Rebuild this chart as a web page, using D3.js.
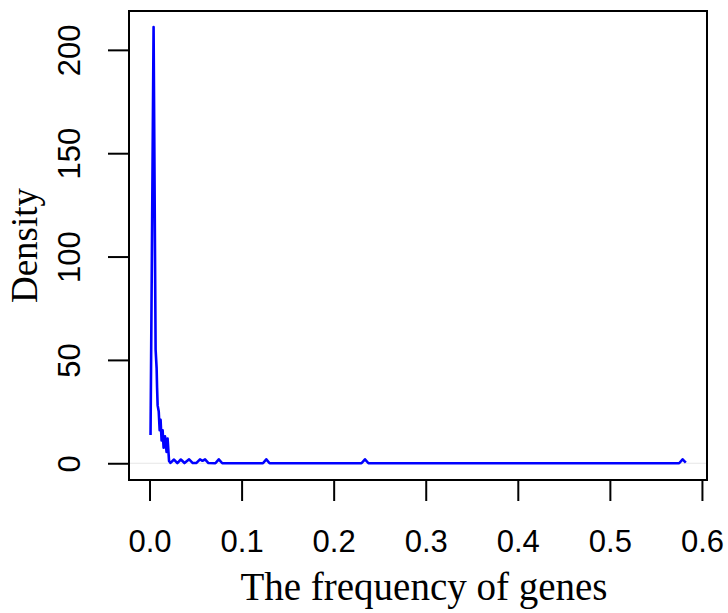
<!DOCTYPE html>
<html>
<head>
<meta charset="utf-8">
<script src="https://cdn.jsdelivr.net/npm/d3@7"></script>
<style>
  html, body { margin: 0; padding: 0; background: #fff; }
  svg { display: block; }
</style>
</head>
<body>
<svg id="chart" width="728" height="613"></svg>
<script>
// ---- data (kernel density curve) ----
const freqValues = [
  0.0011, 0.0044, 0.0066, 0.0077, 0.0082, 0.0088, 0.0100, 0.0110, 0.0120,
  0.0131, 0.0142, 0.0153, 0.0168, 0.0185, 0.0196, 0.0212, 0.0228,
  0.0266, 0.0302, 0.0340, 0.0380, 0.0430, 0.0470, 0.0510, 0.0548, 0.0575,
  0.0603, 0.0640, 0.0715, 0.0752, 0.0790, 0.1232, 0.1268, 0.1304,
  0.2302, 0.2340, 0.2378, 0.5752, 0.5790, 0.5825
];
const densityValues = [
  13.7, 211.0, 55.0, 46.0, 36.5, 28.0, 25.0, 16.0, 21.0,
  11.0, 16.0, 7.5, 13.0, 5.5, 12.0, 1.1, 0.2,
  1.8, 0.1, 1.8, 0.1, 1.9, 0.1, 0.2, 1.9, 1.2,
  1.9, 0.1, 0.0, 1.9, 0.0, 0.0, 1.9, 0.0,
  0.0, 1.9, 0.0, 0.0, 1.9, 0.3
];
const xTicks = [0, 0.1, 0.2, 0.3, 0.4, 0.5, 0.6];
const yTicks = [0, 50, 100, 150, 200];
const xDomain = [-0.0223, 0.6055];
const yDomain = [-8.1, 218.8];
const xLabel = "The frequency of genes";
const yLabel = "Density";

// ---- layout ----
const plot = { left: 129, right: 707, top: 11, bottom: 480 };
const svg = d3.select("#chart");

const x = d3.scaleLinear().domain(xDomain).range([plot.left, plot.right]);
const y = d3.scaleLinear().domain(yDomain).range([plot.bottom, plot.top]);

// zero line (light gray)
svg.append("line")
  .attr("x1", plot.left).attr("x2", plot.right)
  .attr("y1", y(0)).attr("y2", y(0))
  .attr("stroke", "#e6e6e6").attr("stroke-width", 1);

// density curve
const pts = freqValues.map((v, i) => [v, densityValues[i]]);
svg.append("path")
  .datum(pts)
  .attr("fill", "none")
  .attr("stroke", "#0000ff")
  .attr("stroke-width", 2.6)
  .attr("stroke-linejoin", "round")
  .attr("stroke-linecap", "butt")
  .attr("d", d3.line().x(d => x(d[0])).y(d => y(d[1])));

// box
svg.append("rect")
  .attr("x", plot.left).attr("y", plot.top)
  .attr("width", plot.right - plot.left)
  .attr("height", plot.bottom - plot.top)
  .attr("fill", "none").attr("stroke", "#000").attr("stroke-width", 2);

// x axis
const gx = svg.append("g")
  .attr("transform", `translate(0,${plot.bottom})`)
  .call(d3.axisBottom(x).tickValues(xTicks).tickSize(21).tickFormat(d3.format(".1f")));
gx.select(".domain").remove();
gx.selectAll(".tick line").attr("stroke", "#000").attr("stroke-width", 2);
gx.selectAll(".tick text")
  .attr("y", 72).attr("dy", 0)
  .attr("fill", "#000")
  .style("font-family", "'Liberation Sans', Arial, sans-serif")
  .style("font-size", "31px");

// y axis
const gy = svg.append("g")
  .attr("transform", `translate(${plot.left},0)`)
  .call(d3.axisLeft(y).tickValues(yTicks).tickSize(21).tickFormat(d3.format("d")));
gy.select(".domain").remove();
gy.selectAll(".tick line").attr("stroke", "#000").attr("stroke-width", 2);
gy.selectAll(".tick text")
  .attr("x", 0).attr("y", -49).attr("dy", 0)
  .attr("transform", "rotate(-90)")
  .attr("text-anchor", "middle")
  .attr("fill", "#000")
  .style("font-family", "'Liberation Sans', Arial, sans-serif")
  .style("font-size", "31px");

// axis titles
svg.append("text")
  .attr("x", 424).attr("y", 600)
  .attr("text-anchor", "middle")
  .style("font-family", "'Liberation Serif', 'Times New Roman', serif")
  .style("font-size", "39px")
  .text(xLabel);

svg.append("text")
  .attr("transform", `translate(37,${(plot.top + plot.bottom) / 2}) rotate(-90)`)
  .attr("text-anchor", "middle")
  .style("font-family", "'Liberation Serif', 'Times New Roman', serif")
  .style("font-size", "37px")
  .text(yLabel);
</script>
</body>
</html>
